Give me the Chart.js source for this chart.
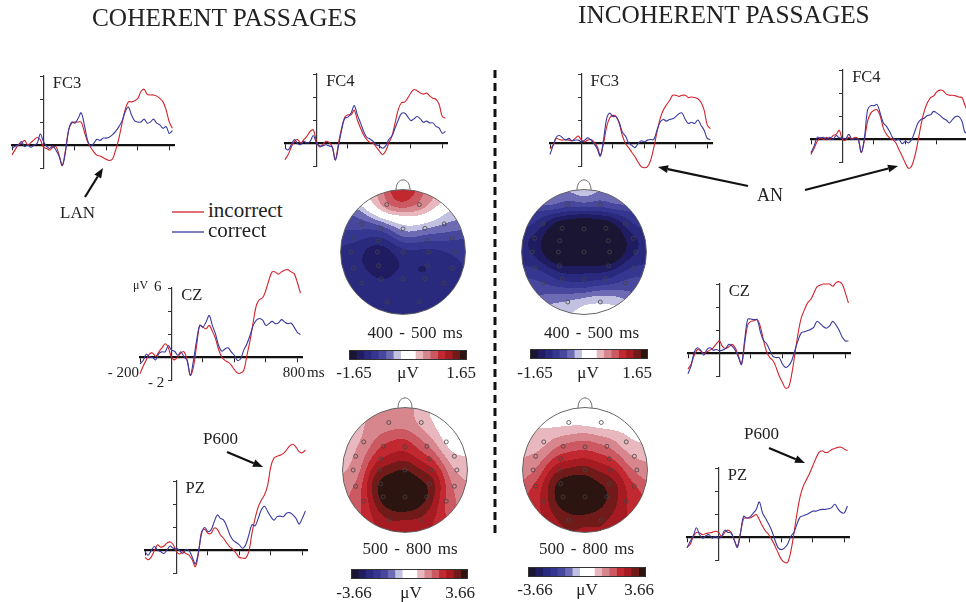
<!DOCTYPE html>
<html>
<head>
<meta charset="utf-8">
<script src="https://cdn.jsdelivr.net/npm/chart.js@4.4.1/dist/chart.umd.min.js"></script>
<style>
  html, body { margin: 0; padding: 0; background: #fff; overflow: hidden; }
  #page { position: relative; width: 966px; height: 602px; overflow: hidden;
          font-family: "Liberation Serif", "Times New Roman", serif; color: #222; }
  #page canvas { position: absolute; }
  .t { position: absolute; white-space: nowrap; line-height: 1; }
</style>
</head>
<body>
<div id="page"></div>
<script>
// time axis (ms) shared by every waveform
const times = [-200,-180,-160,-140,-120,-100,-80,-60,-40,-20,0,20,40,60,80,100,120,140,160,180,
  200,220,240,260,280,300,320,340,360,380,400,420,440,460,480,500,520,540,560,580,
  600,620,640,660,680,700,720,740,760,780,800,820];
const xTicks = [-200, 200, 400, 600, 800];
const yTicks = [-2, 0, 2, 4, 6];

// coherent passages (µV)
const cohFC3Incorrect = [-0.87,-0.4,0,0.15,0.4,0,0.2,0.45,0.65,0.45, -0.2,-0.3,-0.45,-0.2,-0.15,-0.9,-1.75,-0.45,1.3,1.9,
  2.0,2.0,2.0,1.15,0.3,-0.2,-0.6,-0.9,-0.95,-1.1, -1.25,-1.35,-1.2,-0.4,0.6,1.9,3.1,3.75,3.75,3.85,
  4.05,4.65,4.85,4.4,4.35,4.35,4.25,4.05,3.75,3.05, 2.0,1.45];
const cohFC3Correct = [-0.3,-0.1,0,0.3,-0.15,0,-0.2,0,0.15,0.95, 0.3,-0.1,-0.3,-0.1,-0.45,-1.0,-1.8,-0.6,1.3,2.0,
  1.9,2.3,2.8,1.75,0.45,-0.1,0.15,0.5,0.4,0.6, 0.6,0.7,0.9,1.2,1.6,2.1,2.9,3.3,2.6,2.1,
  2.0,2.0,2.25,1.9,2.0,2.25,1.9,1.75,1.45,1.6, 1.0,1.25];
const cohFC4Incorrect = [-1.45,-1.0,-0.35,0.15,0.3,0,0.3,0.6,1.0,1.15, 0.15,-0.35,-0.15,0.15,0.05,-0.3,-1.45,0,1.3,2.25,
  2.45,2.45,2.85,2.0,1.3,0.7,0.3,0.05,0,-0.35, -0.7,-1.0,-0.7,0,0.6,1.75,2.9,3.5,3.55,3.9,
  4.35,4.65,4.55,4.35,4.25,4.35,4.1,3.9,3.8,3.35, 2.3,2.15];
const cohFC4Correct = [-0.45,-0.6,-0.15,0.3,-0.05,-0.15,0.15,0,0.15,0.65, 0,-0.25,-0.25,-0.15,-0.25,-0.35,-1.5,-0.3,1.15,2.15,
  2.25,2.6,3.25,2.45,1.75,1.0,0.5,0.35,0.15,-0.15, -0.25,-0.45,-0.25,0.3,0.6,1.3,2.0,2.55,2.6,2.3,
  1.95,2.1,2.3,2.1,1.8,1.9,1.75,1.75,1.45,1.3, 0.85,1.0];
const cohCZIncorrect = [-1.45,-0.8,-0.25,0.25,0.35,0.05,0.45,0.8,1.15,0.8, 0,-0.25,0,0.35,0.45,-0.3,-1.6,-0.85,1.0,2.75,
  2.6,2.45,2.75,2.25,1.6,0.65,0,-0.3,-0.45,-0.7, -1.1,-1.4,-1.4,-1.15,0.15,1.45,3.05,4.5,5.0,5.15,
  5.8,6.7,7.4,7.4,7.2,7.4,7.55,7.6,7.4,7.25, 6.5,5.55];
const cohCZCorrect = [-0.6,-0.3,0.25,0,-0.05,-0.25,0.3,0.45,0.45,1.0, 0.6,0.5,0.15,0.45,0,-0.3,-1.6,-0.3,1.45,2.75,
  2.6,3.05,3.6,2.75,2.0,1.0,0.5,0.7,0.8,0.45, 0.15,-0.3,-0.15,0.6,1.15,1.9,2.75,3.2,3.35,3.2,
  2.75,2.9,3.1,2.9,2.95,3.25,3.05,2.9,2.95,2.6, 2.15,1.95];
const cohPZIncorrect = [-0.65,-0.85,-0.6,-0.05,0.45,0.25,0.35,0.6,0.7,0.45, -0.15,-0.35,-0.15,-0.3,-0.45,-0.85,-1.45,-0.3,1.6,1.8,
  1.45,1.45,1.9,1.8,1.3,1.0,0.6,0.25,0.05,-0.3, -0.65,-0.7,-0.7,-0.15,1.45,2.75,3.75,4.35,4.8,5.65,
  7.25,8.0,8.15,8.25,8.4,8.7,9.05,9.2,8.95,8.55, 8.45,8.7];
const cohPZCorrect = [-0.15,-0.45,-0.05,0.3,0,-0.15,-0.3,0,0.35,0.15, 0.15,-0.05,-0.3,0.05,-0.05,-0.6,-1.2,-0.15,1.45,1.95,
  1.6,1.75,2.45,3.05,2.75,2.6,2.05,1.3,0.85,0.65, 0.45,0.15,0.45,1.3,2.2,2.1,2.75,3.5,3.8,3.35,
  2.9,2.6,2.9,2.95,2.9,3.2,3.25,3.05,2.75,2.25, 2.75,3.4];

// incoherent passages (µV)
const incFC3Incorrect = [-0.5,-0.2,0.4,0.3,0.25,0.3,0.25,0.2,0.4,0.6, 0.25,0.1,0.25,0.3,0.1,-0.3,-1.05,-0.05,1.4,2.2,
  2.4,2.3,1.7,0.65,-0.05,-0.4,-0.8,-1.2,-1.65,-2.05, -2.15,-2.05,-1.5,-0.4,0.95,2.1,2.85,3.3,3.7,4.15,
  4.15,4.05,4.15,4.15,3.95,4.0,3.95,3.85,3.55,2.85, 1.55,1.25];
const incFC3Correct = [-1.0,-0.2,0.5,0.65,0.45,0.25,0.4,0.2,0.25,0.25, 0.1,0.25,0.45,0.25,-0.05,-0.5,-1.15,0.25,2.1,2.6,
  2.3,2.3,1.8,0.95,0.6,0,-0.2,-0.4,-0.05,0.2, 0.1,0.25,0.3,0.3,1.1,1.8,2.05,1.9,2.05,2.1,
  2.3,2.55,2.6,2.05,1.7,1.8,1.7,2.0,1.55,1.1, 0.4,0.3];
const incFC4Incorrect = [-1.35,-0.8,-0.2,0.1,-0.05,0.15,-0.05,0.3,0.4,0.75, -0.05,-0.1,0.15,0,0.15,0,-1.2,-0.05,1.55,2.25,
  2.5,2.55,2.0,0.95,0.4,0.1,-0.05,-0.35,-0.95,-1.5, -2.1,-2.55,-2.35,-1.5,-0.2,1.25,2.4,3.15,3.6,3.75,
  4.1,4.25,4.2,3.9,3.8,3.8,3.75,3.65,3.6,2.9, 2.3,2.1];
const incFC4Correct = [-1.2,-0.6,0.15,0.1,0.15,-0.05,0.15,-0.05,0.3,0.1, 0.1,0,0.4,0,0,-0.05,-1.15,0.15,2.55,2.9,
  2.9,3.0,2.25,1.4,1.1,0.65,0.1,-0.1,-0.05,-0.4, -0.2,-0.35,-0.05,0.65,1.4,1.7,1.8,2.05,2.1,2.4,
  2.25,2.05,1.8,1.65,1.4,1.7,1.95,1.95,1.55,0.55, 0.8,0.95];
const incCZIncorrect = [-1.4,-0.95,-0.2,0.3,0.2,-0.05,0.1,0.25,0.45,0.8, 1.05,0.55,0.4,0.55,0.75,0.45,-0.2,-0.95,0.8,2.45,
  2.75,2.8,2.9,2.3,1.1,0.1,-0.4,-0.65,-1.25,-2.0, -2.55,-3.05,-2.95,-1.8,-0.05,1.7,3.05,3.75,4.35,4.65,
  5.2,5.75,5.9,6.0,6.0,6.0,5.8,6.1,6.2,6.0, 5.25,4.35];
const incCZCorrect = [-1.8,-1.1,0.1,0.45,0.25,-0.2,0.3,0.45,0.25,0.3, 0.2,0.25,0.4,0.75,0.6,0.25,-0.35,-1.0,1.1,2.95,
  2.95,2.9,2.9,1.85,1.1,0.8,0.25,-0.3,-0.4,-0.4, -0.95,-1.25,-1.1,-0.65,0.25,1.1,1.75,1.85,1.95,2.05,
  2.25,2.75,2.55,2.3,2.15,2.35,2.75,2.45,2.0,1.4, 1.05,1.05];
const incPZIncorrect = [-0.9,-0.65,0.05,0.4,0.35,0.2,0.3,0.35,0.4,0.5, 0.4,0.05,0.4,0.6,0.4,-0.25,-0.8,0.35,1.6,1.65,
  1.65,1.8,1.95,1.5,0.95,0.5,0.2,-0.25,-0.8,-1.4, -1.95,-2.2,-2.2,-1.25,0.35,2.1,3.55,4.45,5.0,5.55,
  6.2,6.85,7.35,7.5,7.35,7.4,7.6,7.7,7.8,7.8, 7.65,7.5];
const incPZCorrect = [-0.95,-0.4,0.1,0.8,0.2,-0.1,0.1,0.2,-0.1,0.05, -0.1,0.05,0.6,0.4,0.35,-0.25,-0.9,0.35,1.8,1.65,
  1.75,2.05,2.4,3.05,2.1,1.6,1.1,0.5,-0.3,-0.95, -1.1,-0.95,-0.6,0.05,0.4,1.15,1.75,1.85,1.95,2.1,
  2.25,2.25,2.35,2.4,2.4,2.45,2.55,2.85,2.45,2.15, 2.1,2.7];

// scalp maps: electrode layout (unit head radius, nose up) and mean amplitude per electrode (µV)
const elecNames = ['Fp1','Fp2','F7','F3','Fz','F4','F8','FT7','FC3','FC4','FT8','T3','C3','Cz','C4','T4',
  'TP7','CP3','CP4','TP8','T5','P3','Pz','P4','T6','O1','O2'];
const elecX = [-0.26,0.26,-0.66,-0.35,0,0.35,0.66,-0.79,-0.39,0.39,0.79,-0.83,-0.41,0,0.41,0.83,
  -0.79,-0.39,0.39,0.79,-0.66,-0.35,0,0.35,0.66,-0.26,0.26];
const elecY = [0.76,0.76,0.45,0.38,0.37,0.38,0.45,0.22,0.18,0.18,0.22,0,0,0,0,0,
  -0.26,-0.22,-0.22,-0.26,-0.5,-0.43,-0.43,-0.43,-0.5,-0.8,-0.8];
const topoCoh400 = [0.91,0.74,-0.66,-0.58,-0.17,-0.08,-0.3,-1.02,-1.3,-1.02,-0.91,-1.19,-1.65,-1.19,-1.19,-1.07,
  -1.19,-1.32,-1.38,-1.16,-1.19,-1.19,-1.19,-1.19,-1.12,-1.3,-1.19];
const topoInc400 = [-0.85,-0.85,-1.2,-1.85,-1.8,-1.85,-1.2,-1.5,-1.95,-1.95,-1.5,-1.4,-1.95,-1.85,-1.95,-1.35,
  -1.05,-1.45,-1.45,-1.05,-0.7,-1.05,-1.15,-1.0,-0.65,-0.35,-0.12];
const topoCoh500 = [1.1,0.92,0.81,1.83,2.2,1.28,0,0.81,2.3,2.05,0.29,0.81,3.0,3.6,2.6,0.81,
  1.35,3.9,3.7,1.1,1.9,3.9,4.0,3.6,1.6,3.05,2.95];
const topoInc500 = [0.29,0.11,0.55,1.28,1.65,1.28,0.37,0.92,2.1,1.9,0.73,1.35,3.0,3.3,2.7,1.3,
  2.1,3.8,3.3,2.05,2.7,4.0,4.0,3.5,2.45,3.25,3.1];
// amplitude read along the scalp rim, every 30 degrees clockwise from the nose (µV)
const rimAngles = [0,30,60,90,120,150,180,210,240,270,300,330];
const rimCoh400 = [1.15,0.33,-0.31,-0.9,-0.9,-1.0,-1.0,-1.1,-1.0,-0.95,-0.6,0.1];
const rimInc400 = [0,-0.2,-0.5,-0.9,-0.6,-0.1,0,-0.3,-0.65,-0.9,-0.55,-0.15];
const rimCoh500 = [1.1,0,0,0.7,1.1,1.85,2.0,1.85,1.1,0.75,0.7,0.9];
const rimInc500 = [0,0,0.2,0.75,1.55,2.2,2.35,2.2,1.35,0.75,0.4,0.1];

// colour scale, 16 steps from -limit to +limit
const levelColors = ['#1a1533','#1f1c62','#29297d','#34368f','#47479e','#6d6bb3','#c3c1e2','#ffffff',
  '#ffffff','#e9b7be','#d7868e','#cc5962','#c1282f','#a51b21','#701a19','#2c1411'];
const barLabels400 = ['-1.65', 'μV', '1.65'];
const barLabels500 = ['-3.66', 'μV', '3.66'];

const RED = '#d2232b', BLUE = '#3a3aa0';
const page = document.getElementById('page');

function addCanvas(left, top, w, h) {
  const c = document.createElement('canvas');
  c.width = w; c.height = h;
  c.style.left = Math.round(left) + 'px';
  c.style.top = Math.round(top) + 'px';
  page.appendChild(c);
  return c;
}

function addText(str, x, y, size, align) {
  const d = document.createElement('div');
  d.className = 't';
  d.textContent = str;
  d.style.fontSize = size + 'px';
  d.style.left = x + 'px';
  d.style.top = y + 'px';
  const tx = align === 'center' ? '-50%' : align === 'right' ? '-100%' : '0';
  d.style.transform = `translate(${tx},-50%)`;
  page.appendChild(d);
  return d;
}

// --- annotation layer (divider, legend swatches, arrows)
const NS = 'http://www.w3.org/2000/svg';
const svg = document.createElementNS(NS, 'svg');
svg.setAttribute('width', 966); svg.setAttribute('height', 602);
svg.style.position = 'absolute'; svg.style.left = '0'; svg.style.top = '0';
page.appendChild(svg);

function svgLine(x1, y1, x2, y2, color, w, dash) {
  const l = document.createElementNS(NS, 'line');
  l.setAttribute('x1', x1); l.setAttribute('y1', y1);
  l.setAttribute('x2', x2); l.setAttribute('y2', y2);
  l.setAttribute('stroke', color); l.setAttribute('stroke-width', w);
  if (dash) l.setAttribute('stroke-dasharray', dash);
  svg.appendChild(l);
}

function arrow(x1, y1, x2, y2) {
  const a = Math.atan2(y2 - y1, x2 - x1), len = 10, half = 4;
  const bx = x2 - len * Math.cos(a), by = y2 - len * Math.sin(a);
  svgLine(x1, y1, bx, by, '#111', 2.2);
  const p = document.createElementNS(NS, 'polygon');
  const px = -Math.sin(a) * half, py = Math.cos(a) * half;
  p.setAttribute('points', `${x2},${y2} ${bx + px},${by + py} ${bx - px},${by - py}`);
  p.setAttribute('fill', '#111');
  svg.appendChild(p);
}

svgLine(495, 70, 495, 538, '#111', 3, '8 5');
svgLine(172, 212, 204, 212, RED, 1.3);
svgLine(172, 232, 204, 232, BLUE, 1.3);
arrow(85, 197, 103, 168);
arrow(227, 452, 263, 467);
arrow(769, 448, 805, 463);
arrow(748, 186, 658, 167);
arrow(805, 190, 898, 166);

// --- waveform panels
const PX_MS = 162 / 1030, PX_UV = 11.5;
const PAD = { l: 8, r: 8, t: 45, b: 24 };

const panels = [
  { name: 'FC3', inc: cohFC3Incorrect, cor: cohFC3Correct, ox: 43.3, oy: 145 },
  { name: 'FC4', inc: cohFC4Incorrect, cor: cohFC4Correct, ox: 316.7, oy: 143.3 },
  { name: 'CZ',  inc: cohCZIncorrect,  cor: cohCZCorrect,  ox: 171.7, oy: 356.7 },
  { name: 'PZ',  inc: cohPZIncorrect,  cor: cohPZCorrect,  ox: 176, oy: 550 },
  { name: 'FC3', inc: incFC3Incorrect, cor: incFC3Correct, ox: 581, oy: 142.7 },
  { name: 'FC4', inc: incFC4Incorrect, cor: incFC4Correct, ox: 842.7, oy: 139.3 },
  { name: 'CZ',  inc: incCZIncorrect,  cor: incCZCorrect,  ox: 719.3, oy: 352.7 },
  { name: 'PZ',  inc: incPZIncorrect,  cor: incPZCorrect,  ox: 718.3, oy: 537.3 }
];

function series(vals) { return vals.map((v, i) => ({ x: times[i], y: v })); }

panels.forEach(p => {
  const w = PAD.l + 162 + PAD.r, h = PAD.t + 92 + PAD.b;
  const cv = addCanvas(p.ox - PAD.l - 200 * PX_MS, p.oy - PAD.t - 6 * PX_UV, w, h);
  new Chart(cv, {
    type: 'line',
    data: {
      datasets: [
        { label: 'correct', data: series(p.cor), borderColor: BLUE, borderWidth: 1.1,
          pointRadius: 0, tension: 0.35, clip: false },
        { label: 'incorrect', data: series(p.inc), borderColor: RED, borderWidth: 1.1,
          pointRadius: 0, tension: 0.35, clip: false }
      ]
    },
    options: {
      responsive: false, animation: false, events: [],
      layout: { autoPadding: false, padding: { left: PAD.l, right: PAD.r, top: PAD.t, bottom: PAD.b } },
      plugins: { legend: { display: false }, tooltip: { enabled: false } },
      scales: {
        x: {
          type: 'linear', min: -200, max: 830, position: { y: 0 },
          afterBuildTicks: s => { s.ticks = xTicks.map(v => ({ value: v })); },
          ticks: { display: false },
          grid: { drawOnChartArea: false, drawTicks: true, tickLength: 4, color: '#222', lineWidth: 1 },
          border: { display: true, color: '#111', width: 2.3 }
        },
        y: {
          type: 'linear', min: -2, max: 6, position: { x: 0 },
          afterBuildTicks: s => { s.ticks = yTicks.map(v => ({ value: v })); },
          ticks: { display: false },
          grid: { drawOnChartArea: false, drawTicks: true, tickLength: 3, color: '#333', lineWidth: 1 },
          border: { display: true, color: '#333', width: 1.2 }
        }
      }
    }
  });
  addText(p.name, p.ox + 9.5, p.oy - 62, 16.5);
});

// axis annotation of the coherent CZ panel
addText('μV', 133, 285, 12);
addText('6', 154, 286, 15);
addText('- 2', 148, 382, 15);
addText('- 200', 139, 371.5, 15, 'right');
addText('800', 294, 371.5, 15, 'center');
addText('ms', 307, 371.5, 15);

// --- scalp maps
const SIGMA = 0.2;
const levelRGB = levelColors.map(h => [1, 3, 5].map(i => parseInt(h.slice(i, i + 2), 16)));
const rimX = rimAngles.map(a => Math.sin(a * Math.PI / 180));
const rimY = rimAngles.map(a => Math.cos(a * Math.PI / 180));
const srcX = elecX.concat(rimX), srcY = elecY.concat(rimY);

const topoField = {
  id: 'topoField',
  beforeDatasetsDraw(chart, args, opts) {
    const { ctx, scales: { x, y } } = chart;
    const cx = x.getPixelForValue(0), cy = y.getPixelForValue(0);
    const r = x.getPixelForValue(1) - cx;
    const size = Math.ceil(2 * r) + 2;
    const x0 = Math.round(cx - size / 2), y0 = Math.round(cy - size / 2);
    const img = ctx.createImageData(size, size);
    const n = levelColors.length;
    const vals = opts.values.concat(opts.rim);
    for (let j = 0; j < size; j++) {
      for (let i = 0; i < size; i++) {
        const px = x.getValueForPixel(x0 + i + 0.5), py = y.getValueForPixel(y0 + j + 0.5);
        if (px * px + py * py > 1) continue;
        let sw = 0, sv = 0;
        for (let k = 0; k < srcX.length; k++) {
          const dx = px - srcX[k], dy = py - srcY[k];
          const wgt = Math.exp(-(dx * dx + dy * dy) / (2 * SIGMA * SIGMA));
          sw += wgt; sv += wgt * vals[k];
        }
        const v = sv / sw;
        const lev = Math.max(0, Math.min(n - 1, Math.floor((v / opts.limit + 1) / 2 * n)));
        const c = levelRGB[lev], o = (j * size + i) * 4;
        img.data[o] = c[0]; img.data[o + 1] = c[1]; img.data[o + 2] = c[2]; img.data[o + 3] = 255;
      }
    }
    ctx.putImageData(img, x0, y0);
    ctx.save();
    ctx.strokeStyle = '#666';
    ctx.lineWidth = 1;
    ctx.beginPath();
    ctx.arc(cx, cy, r, 0, Math.PI * 2);
    ctx.stroke();
    ctx.beginPath();
    ctx.moveTo(cx - 7, cy - r + 0.5);
    ctx.bezierCurveTo(cx - 7, cy - r - 13, cx + 7, cy - r - 13, cx + 7, cy - r + 0.5);
    ctx.stroke();
    ctx.restore();
  }
};

const maps = [
  { values: topoCoh400, rim: rimCoh400, limit: 1.65, cx: 403, cy: 252, caption: '400 - 500 ms', capX: 415, capY: 332,
    bar: { x: 349, y: 350, w: 118, h: 10 }, labels: barLabels400, lx: [354, 408, 461], ly: 372 },
  { values: topoInc400, rim: rimInc400, limit: 1.65, cx: 584, cy: 252, caption: '400 - 500 ms', capX: 591.5, capY: 332,
    bar: { x: 530, y: 349, w: 118, h: 10 }, labels: barLabels400, lx: [535, 588, 637], ly: 372 },
  { values: topoCoh500, rim: rimCoh500, limit: 3.66, cx: 405, cy: 470, caption: '500 - 800 ms', capX: 410, capY: 548,
    bar: { x: 351, y: 569, w: 117, h: 10 }, labels: barLabels500, lx: [354, 411, 460], ly: 591.5 },
  { values: topoInc500, rim: rimInc500, limit: 3.66, cx: 585, cy: 470, caption: '500 - 800 ms', capX: 586.5, capY: 548,
    bar: { x: 528, y: 567, w: 118, h: 10 }, labels: barLabels500, lx: [535, 587, 639], ly: 588.5 }
];

const barOutline = {
  id: 'barOutline',
  afterDraw(chart) {
    const { ctx, chartArea: a } = chart;
    ctx.save();
    ctx.strokeStyle = '#333';
    ctx.lineWidth = 1;
    ctx.strokeRect(a.left + 0.5, a.top + 0.5, a.right - a.left - 1, a.bottom - a.top - 1);
    ctx.restore();
  }
};

maps.forEach(m => {
  const cv = addCanvas(m.cx - 75, m.cy - 75, 150, 150);
  new Chart(cv, {
    type: 'scatter',
    data: {
      datasets: [{
        data: elecX.map((x, i) => ({ x: x, y: elecY[i] })),
        pointRadius: 2, borderColor: '#444', borderWidth: 0.8, backgroundColor: 'rgba(0,0,0,0)'
      }]
    },
    options: {
      responsive: false, animation: false, events: [],
      layout: { autoPadding: false, padding: 0 },
      plugins: { legend: { display: false }, tooltip: { enabled: false },
                 topoField: { values: m.values, rim: m.rim, limit: m.limit } },
      scales: {
        x: { type: 'linear', min: -1.2, max: 1.2, display: false },
        y: { type: 'linear', min: -1.2, max: 1.2, display: false }
      }
    },
    plugins: [topoField]
  });

  const cap = addText(m.caption, m.capX, m.capY, 17, 'center');
  cap.style.wordSpacing = '2px';

  const bc = addCanvas(m.bar.x, m.bar.y, m.bar.w, m.bar.h);
  new Chart(bc, {
    type: 'bar',
    data: {
      labels: [''],
      datasets: levelColors.map(c => ({ data: [1], backgroundColor: c, borderWidth: 0,
        barPercentage: 1, categoryPercentage: 1 }))
    },
    options: {
      indexAxis: 'y', responsive: false, animation: false, events: [],
      layout: { autoPadding: false, padding: 0 },
      plugins: { legend: { display: false }, tooltip: { enabled: false } },
      scales: {
        x: { stacked: true, min: 0, max: levelColors.length, display: false },
        y: { stacked: true, display: false }
      }
    },
    plugins: [barOutline]
  });
  m.labels.forEach((t, i) => addText(t, m.lx[i], m.ly, 17, 'center'));
});

// --- titles, legend and component labels
addText('COHERENT PASSAGES', 92, 18, 25.3);
addText('INCOHERENT PASSAGES', 578, 15, 25.3);
addText('incorrect', 208, 210, 21);
addText('correct', 208, 230, 21);
addText('LAN', 60, 212, 17);
addText('P600', 203, 438, 17);
addText('P600', 744, 433, 17);
addText('AN', 757, 195, 18);
</script>
</body>
</html>
